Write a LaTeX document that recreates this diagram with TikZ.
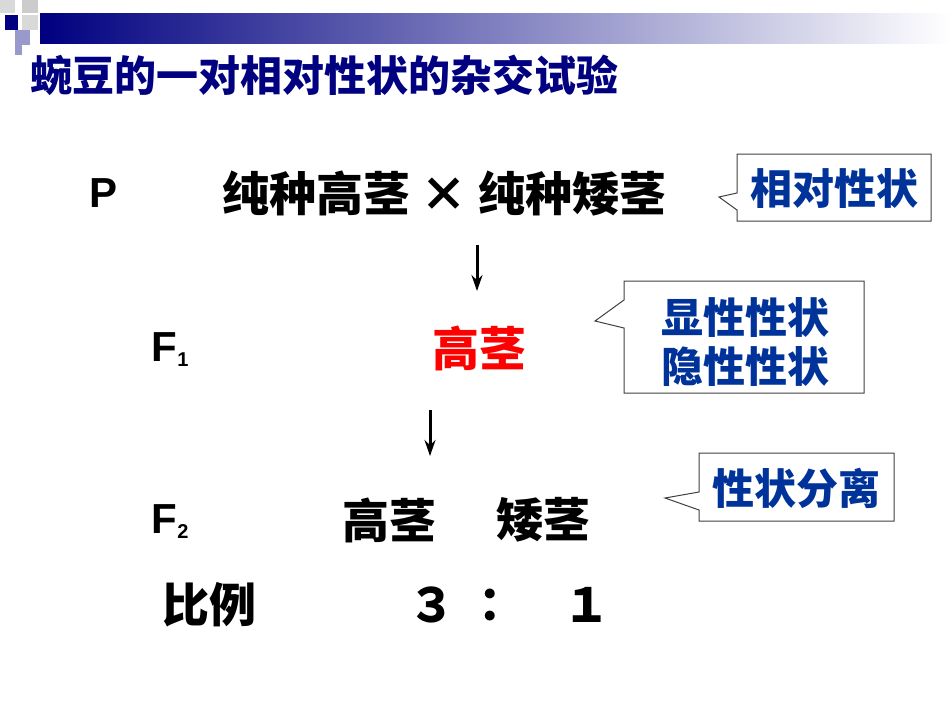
\documentclass[tikz,border=0pt]{standalone}
\usepackage{fontspec}
\setmainfont{Liberation Sans}
\newfontfamily\cjk{Noto Sans CJK SC}
\usetikzlibrary{arrows.meta}
\definecolor{navy}{RGB}{0,0,128}
\definecolor{callblue}{RGB}{0,51,153}
\definecolor{lav}{RGB}{153,153,204}
\tikzset{
 cjkbig/.style={font=\cjk\bfseries\fontsize{47}{50}\selectfont, inner sep=0},
 lat/.style={font=\bfseries\fontsize{42}{44}\selectfont, inner sep=0},
 callt/.style={font=\cjk\bfseries\fontsize{42}{48}\selectfont, text=callblue, inner sep=0, align=center},
 callbox/.style={draw=black!75, line width=1pt, fill=white},
 downarr/.style={-{Stealth[length=16pt,width=11pt]}, line width=3pt}
}
\begin{document}
\begin{tikzpicture}[x=1pt,y=-1pt]
\useasboundingbox (0,0) rectangle (950,713);
% header decoration
\shade[left color=navy, right color=white] (40,13) rectangle (950,43);
\fill[black!15] (0,0) rectangle (15,13);
\fill[black!20] (22,0) rectangle (38,13);
\fill[navy] (5,15) rectangle (18,30);
\fill[black!15] (22,15) rectangle (38,30);
\fill[lav] (15,30) rectangle (30,45);
\fill[lav] (15,45) rectangle (22,55);
\node[font=\cjk\bfseries\fontsize{42}{46}\selectfont, text=navy, inner sep=0, anchor=west] (title) at (30,75) {蜿豆的一对相对性状的杂交试验};
% main content
\node[lat] (P) at (104,193) {P};
\node[cjkbig, anchor=west] (pcross) at (222,193) {纯种高茎 × 纯种矮茎};
\node[lat] (F1) at (170,350) {F\raisebox{-5pt}{\fontsize{20}{22}\selectfont 1}};
\node[cjkbig, text=red] (f1g) at (479,348) {高茎};
\node[lat] (F2) at (170,522) {F\raisebox{-5pt}{\fontsize{20}{22}\selectfont 2}};
\node[cjkbig] (f2g) at (389,520) {高茎};
\node[cjkbig] (f2a) at (543,520) {矮茎};
\node[cjkbig] (ratio) at (209,605) {比例};
\node[cjkbig] (r3) at (432,605) {３};
\node[cjkbig] (rc) at (502,605) {：};
\node[cjkbig] (r1) at (587,605) {１};
\coordinate (a1s) at (477,245); \coordinate (a1e) at (477,291);
\coordinate (a2s) at (430,410); \coordinate (a2e) at (430,456);
\draw[downarr] (a1s) -- (a1e);
\draw[downarr] (a2s) -- (a2e);
% callouts
\draw[callbox] (737,154) -- (931,154) -- (931,221) -- (737,221) -- (737,210) -- (719,197) -- (737,193) -- cycle;
\node[callt] (c1) at (834,188) {相对性状};
\draw[callbox] (624,281) -- (864,281) -- (864,393) -- (624,393) -- (624,328) -- (595,321) -- (624,300) -- cycle;
\node[callt, font=\cjk\bfseries\fontsize{42}{49}\selectfont] (c2) at (745,342) {显性性状\\隐性性状};
\draw[callbox] (699,453) -- (894,453) -- (894,521) -- (699,521) -- (699,510) -- (665,498) -- (699,492) -- cycle;
\node[callt] (c3) at (796,488) {性状分离};
\end{tikzpicture}
\end{document}
